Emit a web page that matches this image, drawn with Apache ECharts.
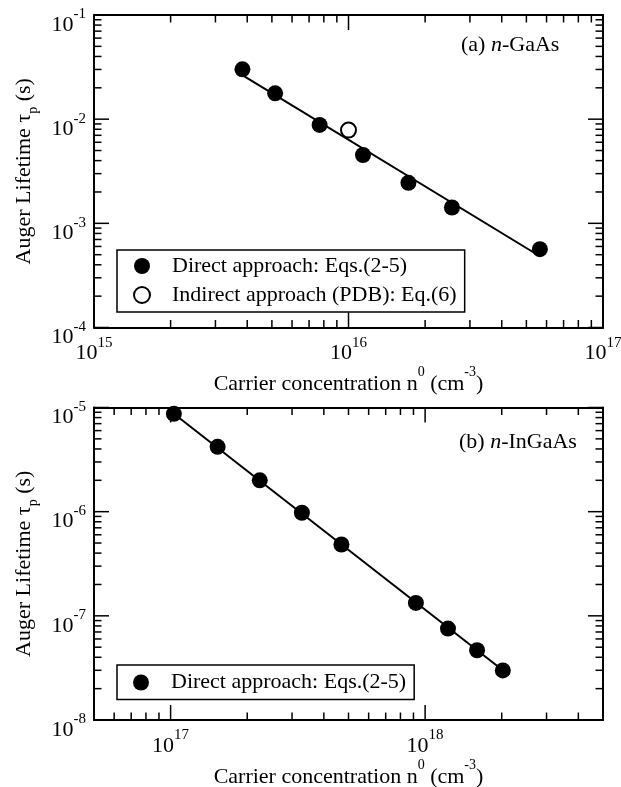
<!DOCTYPE html>
<html>
<head>
<meta charset="utf-8">
<script src="https://cdn.jsdelivr.net/npm/echarts@6/dist/echarts.min.js"></script>
<style>
html, body { margin: 0; padding: 0; background: #fff; }
#wrap { position: relative; width: 621px; height: 787px; }
#chart, #ticks { position: absolute; left: 0; top: 0; width: 621px; height: 787px; }
#ticks { pointer-events: none; }
</style>
</head>
<body>
<div id="wrap">
	<div id="chart"></div>
	<div id="ticks"></div>
</div>
<script>
// (a) n-GaAs
var gaasDirectN = [3.83e15, 5.15e15, 7.7e15, 1.14e16, 1.72e16, 2.55e16, 5.65e16];
var gaasDirectTau = [3.01e-2, 1.77e-2, 8.8e-3, 4.53e-3, 2.45e-3, 1.42e-3, 5.65e-4];
var gaasIndirectN = [1.0e16];
var gaasIndirectTau = [7.85e-3];
var gaasFitN = [3.87e15, 5.65e16];
var gaasFitTau = [2.6e-2, 4.83e-4];

// (b) n-InGaAs
var ingaasDirectN = [1.03e17, 1.53e17, 2.24e17, 3.28e17, 4.69e17, 9.2e17, 1.23e18, 1.6e18, 2.02e18];
var ingaasDirectTau = [8.7e-6, 4.19e-6, 2.0e-6, 9.76e-7, 4.84e-7, 1.33e-7, 7.55e-8, 4.67e-8, 2.99e-8];
var ingaasFitN = [1.03e17, 2.02e18];
var ingaasFitTau = [8.7e-6, 3.0e-8];

// axis ticks / labels (values and the exponent shown)
var gaasXTicks = [1e15, 1e16, 1e17];
var gaasXExp = ['15', '16', '17'];
var gaasYTicks = [1e-4, 1e-3, 1e-2, 1e-1];
var gaasYExp = ['-4', '-3', '-2', '-1'];
var ingaasXTicks = [1e17, 1e18];
var ingaasXExp = ['17', '18'];
var ingaasYTicks = [1e-8, 1e-7, 1e-6, 1e-5];
var ingaasYExp = ['-8', '-7', '-6', '-5'];

var legendDirect = 'Direct approach: Eqs.(2-5)';
var legendIndirect = 'Indirect approach (PDB): Eq.(6)';

var SERIF = '"Liberation Serif", "Times New Roman", serif';

function pairs(xs, ys) {
	var out = [];
	for (var i = 0; i < xs.length; i++) out.push([xs[i], ys[i]]);
	return out;
}

// minor ticks 2..9 x 10^e inside [lo, hi]
function minorTicks(e0, e1, lo, hi) {
	var out = [];
	for (var e = e0; e <= e1; e++) {
		for (var k = 2; k <= 9; k++) {
			var v = k * Math.pow(10, e);
			if (v > lo * 1.0001 && v < hi * 0.9999) out.push(v);
		}
	}
	return out;
}

function powLabel(ticks, exps) {
	return function (v) {
		for (var i = 0; i < ticks.length; i++) {
			if (Math.abs(v / ticks[i] - 1) < 1e-6) return '{b|10}{s|' + exps[i] + '}';
		}
		return '';
	};
}

var tickRich = {
	b: { fontFamily: SERIF, fontSize: 22, lineHeight: 22, padding: [7, 0, 0, 0], color: '#000', verticalAlign: 'top' },
	s: { fontFamily: SERIF, fontSize: 15, lineHeight: 15, color: '#000', verticalAlign: 'top' }
};

var nameRich = {
	b: { fontFamily: SERIF, fontSize: 22, lineHeight: 22, padding: [8, 0, 0, 0], color: '#000', verticalAlign: 'top' },
	s: { fontFamily: SERIF, fontSize: 14, lineHeight: 14, color: '#000', verticalAlign: 'top' },
	t: { fontFamily: SERIF, fontSize: 22, lineHeight: 24, color: '#000', verticalAlign: 'top' },
	p: { fontFamily: SERIF, fontSize: 14, lineHeight: 14, padding: [13, 0, 0, 0], color: '#000', verticalAlign: 'top' }
};

var xName = '{b|Carrier concentration n}{s|0}{b| (cm}{s|-3}{b|)}';
var yName = '{t|Auger Lifetime \u03c4}{p|p}{t| (s)}';

var frameLine = { color: '#000', width: 2 };

var grids = [
	{ left: 94, right: 18, top: 15, height: 312.5, outerBoundsMode: 'none' },
	{ left: 94, right: 18, top: 407.5, height: 312.5, outerBoundsMode: 'none' }
];

// main axis (labels + name) and mirrored axis (frame line only)
function makeAxes(dim, gridIndex, min, max, majors, exps, name, nameGap) {
	var sides = dim === 'x' ? ['bottom', 'top'] : ['left', 'right'];
	return sides.map(function (pos, si) {
		return {
			type: 'log', logBase: 10, gridIndex: gridIndex, position: pos,
			min: min, max: max,
			splitLine: { show: false },
			axisLine: { show: true, onZero: false, lineStyle: frameLine },
			axisTick: { show: false },
			axisLabel: si === 0 ? {
				show: true, customValues: majors, formatter: powLabel(majors, exps),
				margin: 8, rich: tickRich,
				padding: dim === 'y' ? [6, 0, 0, 0] : 0
			} : { show: false },
			name: si === 0 ? name : '',
			nameLocation: 'middle',
			nameGap: nameGap,
			nameTextStyle: { rich: nameRich }
		};
	});
}

var xAxes = []
	.concat(makeAxes('x', 0, 1e15, 1e17, gaasXTicks, gaasXExp, xName, 24))
	.concat(makeAxes('x', 1, 5e16, 5e18, ingaasXTicks, ingaasXExp, xName, 24));
var yAxes = []
	.concat(makeAxes('y', 0, 1e-4, 1e-1, gaasYTicks, gaasYExp, yName, 57))
	.concat(makeAxes('y', 1, 1e-8, 1e-5, ingaasYTicks, ingaasYExp, yName, 57));

var legendText = { fontFamily: SERIF, fontSize: 22, color: '#000' };
var annoRich = {
	r: { fontFamily: SERIF, fontSize: 22, fill: '#000' },
	i: { fontFamily: SERIF, fontSize: 22, fontStyle: 'italic', fill: '#000' }
};

var option = {
	animation: false,
	grid: grids,
	xAxis: xAxes,
	yAxis: yAxes,
	legend: [
		{
			data: [legendDirect, legendIndirect],
			orient: 'vertical', left: 117, top: 250,
			padding: [5, 8, 6, 16], itemGap: 7, itemWidth: 50, itemHeight: 16,
			borderColor: '#000', borderWidth: 1.5,
			textStyle: legendText, selectedMode: false
		},
		{
			data: [legendDirect],
			orient: 'vertical', left: 117, top: 665,
			padding: [6.5, 8, 6, 16], itemWidth: 50, itemHeight: 16,
			borderColor: '#000', borderWidth: 1.5,
			textStyle: legendText, selectedMode: false
		}
	],
	graphic: [
		{ type: 'text', left: 461, top: 34, style: { text: '{r|(a) }{i|n}{r|-GaAs}', rich: annoRich } },
		{ type: 'text', left: 459, top: 431, style: { text: '{r|(b) }{i|n}{r|-InGaAs}', rich: annoRich } }
	],
	series: [
		{
			type: 'line', name: 'fitA', xAxisIndex: 0, yAxisIndex: 0,
			data: pairs(gaasFitN, gaasFitTau), showSymbol: false, symbol: 'none',
			lineStyle: { color: '#000', width: 2 }, z: 2
		},
		{
			type: 'scatter', name: legendDirect, xAxisIndex: 0, yAxisIndex: 0,
			data: pairs(gaasDirectN, gaasDirectTau), symbol: 'circle', symbolSize: 16,
			itemStyle: { color: '#000', opacity: 1 }, z: 3
		},
		{
			type: 'scatter', name: legendIndirect, xAxisIndex: 0, yAxisIndex: 0,
			data: pairs(gaasIndirectN, gaasIndirectTau), symbol: 'circle', symbolSize: 15,
			itemStyle: { color: '#fff', borderColor: '#000', borderWidth: 2, opacity: 1 }, z: 3
		},
		{
			type: 'line', name: 'fitB', xAxisIndex: 2, yAxisIndex: 2,
			data: pairs(ingaasFitN, ingaasFitTau), showSymbol: false, symbol: 'none',
			lineStyle: { color: '#000', width: 2 }, z: 2
		},
		{
			type: 'scatter', name: legendDirect, xAxisIndex: 2, yAxisIndex: 2,
			data: pairs(ingaasDirectN, ingaasDirectTau), symbol: 'circle', symbolSize: 16,
			itemStyle: { color: '#000', opacity: 1 }, z: 3
		}
	]
};

var chart = echarts.init(document.getElementById('chart'));
chart.setOption(option);

/* ---- inward log ticks on all four sides, drawn in a transparent overlay chart ---- */
// tick marks: [x, y, kind]  kind 0 = x major, 1 = x minor, 2 = y major, 3 = y minor
function tickData(xMin, yMin, xMajor, xMinor, yMajor, yMinor) {
	var d = [];
	xMajor.forEach(function (v) { d.push([v, yMin, 0]); });
	xMinor.forEach(function (v) { d.push([v, yMin, 1]); });
	yMajor.forEach(function (v) { d.push([xMin, v, 2]); });
	yMinor.forEach(function (v) { d.push([xMin, v, 3]); });
	return d;
}
var MAJOR = 15, MINOR = 7.5;
function renderTick(params, api) {
	var kind = api.value(2);
	var pt = api.coord([api.value(0), api.value(1)]);
	var cs = params.coordSys;
	var len = (kind === 0 || kind === 2) ? MAJOR : MINOR;
	var segs = kind < 2 ? [
		[pt[0], cs.y + cs.height, pt[0], cs.y + cs.height - len],
		[pt[0], cs.y, pt[0], cs.y + len]
	] : [
		[cs.x, pt[1], cs.x + len, pt[1]],
		[cs.x + cs.width, pt[1], cs.x + cs.width - len, pt[1]]
	];
	return {
		type: 'group',
		children: segs.map(function (s) {
			return {
				type: 'line',
				shape: { x1: s[0], y1: s[1], x2: s[2], y2: s[3] },
				style: { stroke: '#000', lineWidth: 1.5 }
			};
		})
	};
}
function bareAxis(g, pos, min, max) {
	return {
		type: 'log', logBase: 10, gridIndex: g, position: pos, min: min, max: max,
		splitLine: { show: false }, axisLine: { show: false }, axisTick: { show: false }, axisLabel: { show: false }
	};
}
var tickChart = echarts.init(document.getElementById('ticks'));
tickChart.setOption({
	animation: false,
	grid: grids,
	xAxis: [bareAxis(0, 'bottom', 1e15, 1e17), bareAxis(1, 'bottom', 5e16, 5e18)],
	yAxis: [bareAxis(0, 'left', 1e-4, 1e-1), bareAxis(1, 'left', 1e-8, 1e-5)],
	series: [
		{
			type: 'custom', xAxisIndex: 0, yAxisIndex: 0,
			data: tickData(1e15, 1e-4, gaasXTicks, minorTicks(15, 16, 1e15, 1e17), gaasYTicks, minorTicks(-4, -2, 1e-4, 1e-1)),
			renderItem: renderTick, clip: false, z: 10
		},
		{
			type: 'custom', xAxisIndex: 1, yAxisIndex: 1,
			data: tickData(5e16, 1e-8, ingaasXTicks, minorTicks(16, 18, 5e16, 5e18), ingaasYTicks, minorTicks(-8, -6, 1e-8, 1e-5)),
			renderItem: renderTick, clip: false, z: 10
		}
	]
});
</script>
</body>
</html>
